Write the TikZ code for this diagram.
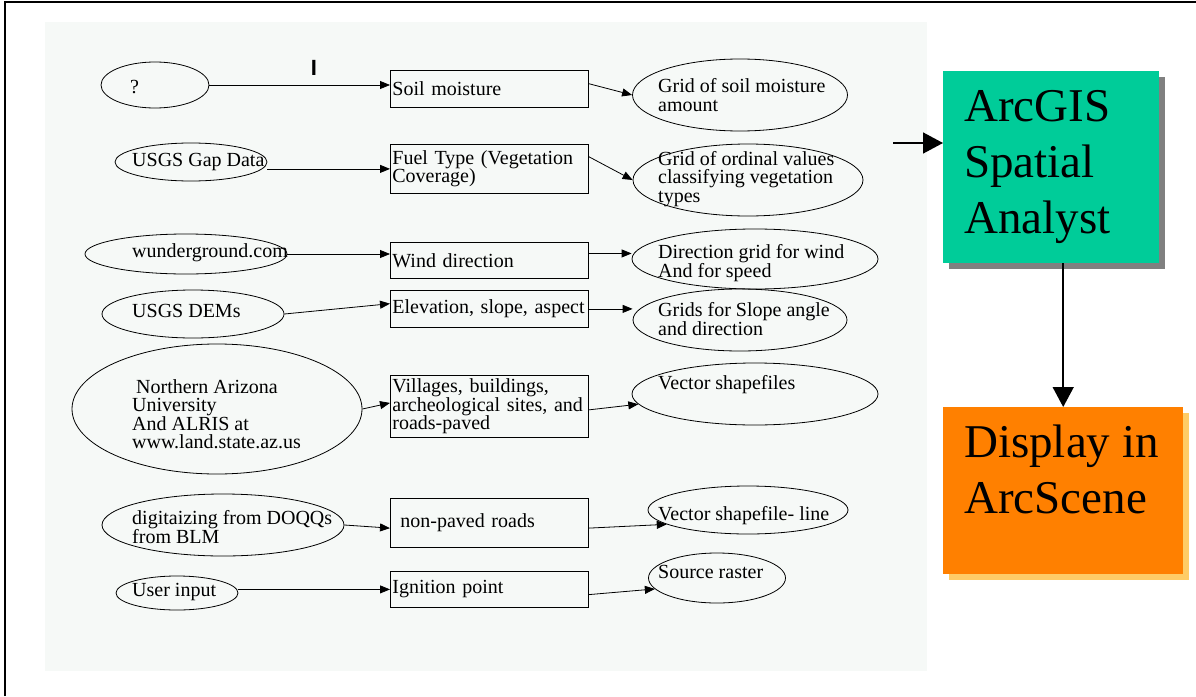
\documentclass[tikz,border=0pt]{standalone}
\usepackage{fontspec}
\setmainfont{Liberation Serif}
\setsansfont{Liberation Sans}
\usetikzlibrary{shapes.geometric,arrows.meta,shadows}
\definecolor{panel}{RGB}{246,249,247}
\definecolor{sagreen}{RGB}{0,204,153}
\definecolor{sashadow}{RGB}{128,128,128}
\definecolor{scorange}{RGB}{255,128,0}
\definecolor{scshadow}{RGB}{255,204,102}
\newcommand{\smalltxt}{\fontsize{20}{18.5}\selectfont}
\newcommand{\bigtxt}{\fontsize{47}{56}\selectfont}

\begin{document}
\begin{tikzpicture}[x=1pt,y=-1pt,
	src/.style={draw,ellipse,line width=0.8pt,inner sep=0pt},
	proc/.style={draw,rectangle,line width=0.8pt,anchor=north west,inner xsep=2pt,inner ysep=0pt,text width=194pt,align=left,font=\smalltxt},
	txt/.style={anchor=west,inner sep=0pt,align=left,font=\smalltxt},
	arr/.style={-{Triangle[length=10pt,width=8pt]},line width=0.8pt},
	bigarr/.style={-{Triangle[length=20pt,width=21pt]},line width=1.5pt},
	big/.style={anchor=north west,inner sep=0pt,font=\bigtxt}]
			\useasboundingbox (0,0) rectangle (1196,696);
			\draw[line width=1.5pt] (5,696) -- (5,2) -- (1196,2);
			\fill[panel] (45,22) rectangle (927,671);

			\node[src,minimum width=108pt,minimum height=46pt] (e0) at (155,85) {};
			\node[src,minimum width=152pt,minimum height=38pt] (e1) at (191,162) {};
			\node[src,minimum width=202pt,minimum height=40pt] (e2) at (186,254) {};
			\node[src,minimum width=182pt,minimum height=48pt] (e3) at (193,314) {};
			\node[src,minimum width=290pt,minimum height=130pt] (e4) at (217,409) {};
			\node[src,minimum width=242pt,minimum height=62pt] (e5) at (223,525) {};
			\node[src,minimum width=122pt,minimum height=34pt] (e6) at (177,593) {};
			\node[txt] (t0) at (130,87) {?};
			\node[txt] (t1) at (132,162) {USGS Gap Data};
			\node[txt] (t2) at (132,253) {wunderground.com};
			\node[txt] (t3) at (132,311) {USGS DEMs};
			\node[txt] (t4) at (132,414) {\hspace*{4pt}Northern Arizona\\University\\And ALRIS at\\www.land.state.az.us};
			\node[txt] (t5) at (132,527) {digitaizing from DOQQs\\from BLM};
			\node[txt] (t6) at (132,592) {User input};
			\node[font=\sffamily\bfseries\fontsize{22}{22}\selectfont,inner sep=0pt] (cur) at (314,68) {I};

			\node[proc,minimum height=37pt] (b1) at (390,70) {Soil moisture};
			\node[proc,minimum height=49pt] (b2) at (390,144) {Fuel Type (Vegetation\\Coverage)};
			\node[proc,minimum height=36pt] (b3) at (390,242) {Wind direction};
			\node[proc,minimum height=37pt] (b4) at (390,290) {Elevation, slope, aspect};
			\node[proc,minimum height=62pt] (b5) at (390,375) {Villages, buildings,\\archeological sites, and\\roads-paved};
			\node[proc,minimum height=49pt] (b6) at (390,498) {\hspace*{8pt}non-paved roads};
			\node[proc,minimum height=36pt] (b7) at (390,571) {Ignition point};

			\node[src,minimum width=215pt,minimum height=72pt] (g1) at (740,95) {};
			\node[src,minimum width=230pt,minimum height=72pt] (g2) at (748,180) {};
			\node[src,minimum width=246pt,minimum height=60pt] (g3) at (755,259) {};
			\node[src,minimum width=214pt,minimum height=62pt] (g4) at (740,320) {};
			\node[src,minimum width=246pt,minimum height=62pt] (g5) at (755,394) {};
			\node[src,minimum width=200pt,minimum height=48pt] (g6) at (748,510) {};
			\node[src,minimum width=137pt,minimum height=50pt] (g7) at (717,578) {};
			\node[txt] (h1) at (658,95) {Grid of soil moisture\\amount};
			\node[txt] (h2) at (658,179) {Grid of ordinal values\\classifying vegetation\\types};
			\node[txt] (h3) at (658,263) {Direction grid for wind\\And for speed};
			\node[txt] (h4) at (658,319) {Grids for Slope angle\\and direction};
			\node[txt] (h5) at (658,385) {Vector shapefiles};
			\node[txt] (h6) at (658,516) {Vector shapefile- line};
			\node[txt] (h7) at (658,572) {Source raster};

			\draw[arr] (e0) -- (e0 -| b1.west);
			\draw[arr] (e1.east |- b2) -- (b2);
			\draw[arr] (e2) -- (e2 -| b3.west);
			\draw[arr] (e3.east) -- (b4.177);
			\draw[arr] (e4.east) -- (b5.178);
			\draw[arr] (e5.east) -- (b6.183);
			\draw[arr] (e6.east |- b7) -- (b7);

			\draw[arr] (b1.3) -- (g1.west);
			\draw[arr] (b2.7) -- (g2.west);
			\draw[arr] (b3.4) -- (b3.4 -| g3.west);
			\draw[arr] (b4) -- (b4 -| g4.west);
			\draw[arr] (b5.-2) -- (g5.185);
			\draw[arr] (b6.-3) -- (g6.190);
			\draw[arr] (b7.-3) -- (g7.190);

			\node[big,fill=sagreen,minimum width=216pt,drop shadow={shadow xshift=6pt,shadow yshift=-6pt,fill=sashadow,opacity=1}] (sa) at (943,71) {\parbox[c][192pt][t]{174pt}{\vspace*{19pt}ArcGIS\\Spatial\\Analyst}};
			\node[big,fill=scorange,minimum width=240pt,drop shadow={shadow xshift=6pt,shadow yshift=-6pt,fill=scshadow,opacity=1}] (ds) at (943,407) {\parbox[c][167pt][t]{198pt}{\vspace*{18pt}Display in\\ArcScene}};
			\coordinate (in) at (893,143);
			\draw[bigarr] (in) -- (in -| sa.west);
			\draw[bigarr] (sa.south -| ds.north) -- (ds.north);
		\end{tikzpicture}
\end{document}
